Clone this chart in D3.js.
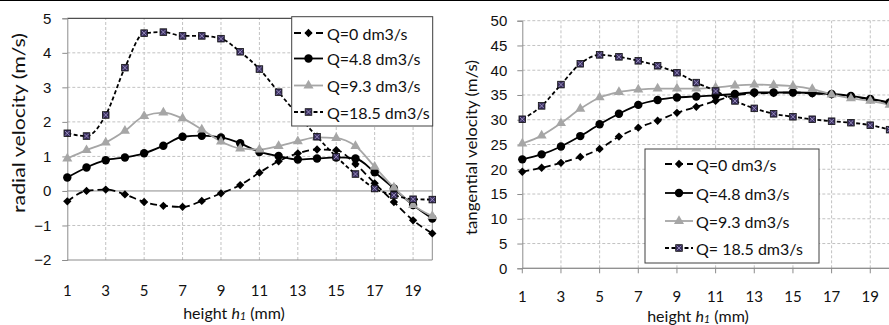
<!DOCTYPE html>
<html>
<head>
<meta charset="utf-8">
<script src="https://cdn.jsdelivr.net/npm/d3@7"></script>
<style>
  body { margin: 0; background: #fff; }
  svg { display: block; font-family: Lato, "Open Sans", sans-serif; }
</style>
</head>
<body>
<svg id="chart" width="889" height="325"></svg>
<script>
// heights h1 (mm)
const heights = d3.range(1, 21);
const xTicks = [1, 3, 5, 7, 9, 11, 13, 15, 17, 19];
const seriesNames = ["Q=0 dm3/s", "Q=4.8 dm3/s", "Q=9.3 dm3/s", "Q=18.5 dm3/s"];
const seriesNamesRight = ["Q=0 dm3/s", "Q=4.8 dm3/s", "Q=9.3 dm3/s", "Q= 18.5 dm3/s"];

// radial velocity (m/s)
const radialQ0 = [-0.3, 0.0, 0.04, -0.1, -0.32, -0.43, -0.46, -0.29, -0.07, 0.17, 0.53, 0.86, 1.09, 1.2, 1.18, 0.78, 0.22, -0.32, -0.85, -1.23];
const radialQ48 = [0.39, 0.68, 0.89, 0.97, 1.09, 1.31, 1.57, 1.6, 1.55, 1.38, 1.13, 1.01, 0.91, 0.94, 0.97, 0.94, 0.54, 0.07, -0.41, -0.8];
const radialQ93 = [0.94, 1.18, 1.4, 1.74, 2.17, 2.27, 2.1, 1.78, 1.43, 1.23, 1.2, 1.3, 1.44, 1.55, 1.53, 1.3, 0.7, 0.1, -0.41, -0.73];
const radialQ185 = [1.67, 1.59, 2.2, 3.57, 4.57, 4.6, 4.49, 4.49, 4.41, 4.03, 3.53, 2.86, 2.2, 1.57, 0.99, 0.49, 0.07, -0.12, -0.24, -0.25];
const radialTicks = [-2, -1, 0, 1, 2, 3, 4, 5];

// tangential velocity (m/s)
const tangQ0 = [19.5, 20.3, 21.3, 22.5, 24.1, 26.6, 28.4, 29.8, 31.4, 32.6, 33.8, 34.9, 35.3, 35.4, 35.5, 35.3, 35.1, 34.7, 34.1, 33.4];
const tangQ48 = [22.0, 23.0, 24.6, 26.7, 29.1, 31.2, 33.0, 34.0, 34.5, 34.7, 34.9, 35.2, 35.5, 35.5, 35.5, 35.4, 35.2, 34.8, 34.2, 33.5];
const tangQ93 = [25.2, 26.8, 29.3, 32.2, 34.5, 35.6, 36.1, 36.3, 36.3, 36.3, 36.5, 36.9, 37.1, 37.0, 36.8, 36.2, 35.1, 34.3, 33.8, 33.0];
const tangQ185 = [30.1, 32.8, 37.1, 41.3, 43.1, 42.7, 41.9, 40.9, 39.5, 37.5, 35.8, 33.8, 32.3, 31.2, 30.6, 30.1, 29.7, 29.4, 28.9, 28.0];
const tangTicks = [0, 5, 10, 15, 20, 25, 30, 35, 40, 45, 50];

const svg = d3.select("#chart");
const gridColor = "#c2c2c2";
const axisColor = "#8c8c8c";

const styles = [
  { stroke: "#000", dash: "7,4", marker: "diamond" },
  { stroke: "#000", dash: null, marker: "circle" },
  { stroke: "#a6a6a6", dash: null, marker: "triangle" },
  { stroke: "#000", dash: "4,2.5", marker: "square" }
];

function drawMarker(g, type, x, y) {
  if (type === "diamond") {
    g.append("path").attr("d", d3.symbol(d3.symbolDiamond2, 44)())
      .attr("transform", `translate(${x},${y})`).attr("fill", "#000");
  } else if (type === "circle") {
    g.append("circle").attr("cx", x).attr("cy", y).attr("r", 4.2).attr("fill", "#000");
  } else if (type === "triangle") {
    g.append("path").attr("d", d3.symbol(d3.symbolTriangle, 44)())
      .attr("transform", `translate(${x},${y})`).attr("fill", "#a6a6a6");
  } else {
    const s = 3.3;
    g.append("rect").attr("x", x - s).attr("y", y - s).attr("width", 2 * s).attr("height", 2 * s)
      .attr("fill", "#3a2f5e").attr("stroke", "#111").attr("stroke-width", 0.8);
    g.append("path").attr("d", `M${x - s + 1},${y - s + 1}L${x + s - 1},${y + s - 1}M${x + s - 1},${y - s + 1}L${x - s + 1},${y + s - 1}`)
      .attr("stroke", "#a99fd0").attr("stroke-width", 0.8);
  }
}

function drawChart(cfg) {
  const x = d3.scaleLinear().domain([1, 20]).range(cfg.xRange);
  const y = d3.scaleLinear().domain(cfg.yDomain).range(cfg.yRange);
  const g = svg.append("g");
  const [y0, y1] = cfg.yDomain;

  // horizontal grid
  g.append("g").selectAll("line").data(cfg.yTicks.filter(t => t !== 0 && t !== y0 && (cfg.topSolid ? t !== y1 : true)))
    .join("line")
    .attr("x1", x(1)).attr("x2", x(20)).attr("y1", d => y(d)).attr("y2", d => y(d))
    .attr("stroke", gridColor).attr("stroke-dasharray", "3,2");
  // vertical grid
  g.append("g").selectAll("line").data(xTicks.filter(t => t !== 1))
    .join("line")
    .attr("x1", d => x(d)).attr("x2", d => x(d)).attr("y1", y(y0)).attr("y2", y(y1))
    .attr("stroke", gridColor).attr("stroke-dasharray", "3,2");

  // frame lines
  g.append("line").attr("x1", x(1)).attr("x2", x(20)).attr("y1", y(y0)).attr("y2", y(y0)).attr("stroke", axisColor);
  g.append("line").attr("x1", x(1)).attr("x2", x(20)).attr("y1", y(0)).attr("y2", y(0)).attr("stroke", axisColor);
  if (cfg.topSolid) {
    g.append("line").attr("x1", x(1)).attr("x2", x(20)).attr("y1", y(y1)).attr("y2", y(y1)).attr("stroke", "#222");
    g.append("line").attr("x1", x(20)).attr("x2", x(20)).attr("y1", y(y0)).attr("y2", y(y1)).attr("stroke", axisColor);
  }

  // y axis
  const yAxis = g.append("g").attr("transform", `translate(${x(1)},0)`)
    .call(d3.axisLeft(y).tickValues(cfg.yTicks).tickFormat(d3.format("d")).tickSize(5).tickPadding(cfg.yPad));
  yAxis.select(".domain").attr("stroke", axisColor);
  yAxis.selectAll(".tick line").attr("stroke", axisColor);
  yAxis.selectAll("text").attr("font-size", 15).attr("fill", "#111").attr("font-family", null);

  // x tick marks on the zero line, labels at the bottom
  if (cfg.xTickMarks) {
    g.append("g").selectAll("line").data(xTicks).join("line")
      .attr("x1", d => x(d)).attr("x2", d => x(d)).attr("y1", y(0)).attr("y2", y(0) + 5)
      .attr("stroke", axisColor);
  }
  g.append("g").selectAll("text").data(xTicks).join("text")
    .attr("x", d => x(d)).attr("y", cfg.xLabelY).attr("text-anchor", "middle")
    .attr("dominant-baseline", "central").attr("font-size", 15).attr("fill", "#111")
    .text(d => d);

  // axis titles
  const xt = g.append("text").attr("x", cfg.xTitleX).attr("y", cfg.xTitleY)
    .attr("text-anchor", "middle").attr("dominant-baseline", "central")
    .attr("font-size", 16).attr("fill", "#111");
  xt.append("tspan").text("height ");
  xt.append("tspan").attr("font-style", "italic").text("h");
  xt.append("tspan").attr("font-style", "italic").attr("font-size", 11).attr("dy", 3).text("1");
  xt.append("tspan").attr("dy", -3).text(" (mm)");

  g.append("text").attr("transform", `translate(${cfg.yTitleX},${cfg.yTitleY}) rotate(-90)`)
    .attr("text-anchor", "middle").attr("dominant-baseline", "central")
    .attr("font-size", cfg.yTitleSize).attr("fill", "#111")
    .attr("textLength", cfg.yTitleLen).attr("lengthAdjust", "spacingAndGlyphs")
    .text(cfg.yTitle);

  // series
  const line = d3.line().x((d, i) => x(heights[i])).y(d => y(d)).curve(d3.curveMonotoneX);
  cfg.series.forEach((vals, k) => {
    const st = styles[k];
    g.append("path").datum(vals).attr("d", line).attr("fill", "none")
      .attr("stroke", st.stroke).attr("stroke-width", 1.8)
      .attr("stroke-dasharray", st.dash);
  });
  cfg.series.forEach((vals, k) => {
    const mg = g.append("g");
    vals.forEach((v, i) => drawMarker(mg, styles[k].marker, x(heights[i]), y(v)));
  });

  // legend
  const L = cfg.legend;
  const lg = g.append("g");
  lg.append("rect").attr("x", L.x).attr("y", L.y).attr("width", L.w).attr("height", L.h)
    .attr("fill", "#fff").attr("stroke", "#404040");
  cfg.names.forEach((name, k) => {
    const st = styles[k];
    const yy = L.rows[k];
    lg.append("line").attr("x1", L.lineX0).attr("x2", L.lineX1).attr("y1", yy).attr("y2", yy)
      .attr("stroke", st.stroke).attr("stroke-width", 1.8).attr("stroke-dasharray", st.dash);
    drawMarker(lg, st.marker, (L.lineX0 + L.lineX1) / 2, yy);
    lg.append("text").attr("x", L.textX).attr("y", yy).attr("dominant-baseline", "central")
      .attr("font-size", 16).attr("fill", "#111").text(name);
  });
}

// top border of the figure
svg.append("line").attr("x1", 0).attr("x2", 889).attr("y1", 0.5).attr("y2", 0.5).attr("stroke", "#000");

drawChart({
  xRange: [67.3, 432.3], yDomain: [-2, 5], yRange: [260, 18.3], yTicks: radialTicks,
  series: [radialQ0, radialQ48, radialQ93, radialQ185], names: seriesNames,
  topSolid: true, xTickMarks: false, yPad: 11,
  xLabelY: 289.5, xTitleX: 234, xTitleY: 311.5,
  yTitle: "radial velocity (m/s)", yTitleX: 18, yTitleY: 123, yTitleLen: 180, yTitleSize: 17,
  legend: { x: 291.7, y: 16.7, w: 141, h: 109.3, rows: [33, 58.5, 85.5, 112], lineX0: 294, lineX1: 323, textX: 327 }
});

drawChart({
  xRange: [522.3, 889.6], yDomain: [0, 50], yRange: [268.3, 20.7], yTicks: tangTicks,
  series: [tangQ0, tangQ48, tangQ93, tangQ185], names: seriesNamesRight,
  topSolid: false, xTickMarks: true, yPad: 10,
  xLabelY: 296, xTitleX: 698, xTitleY: 315,
  yTitle: "tangential velocity (m/s)", yTitleX: 470, yTitleY: 147.5, yTitleLen: 175, yTitleSize: 16,
  legend: { x: 645, y: 149, w: 174, h: 114, rows: [164, 193, 221, 248], lineX0: 665, lineX1: 693, textX: 696 }
});
</script>
</body>
</html>
